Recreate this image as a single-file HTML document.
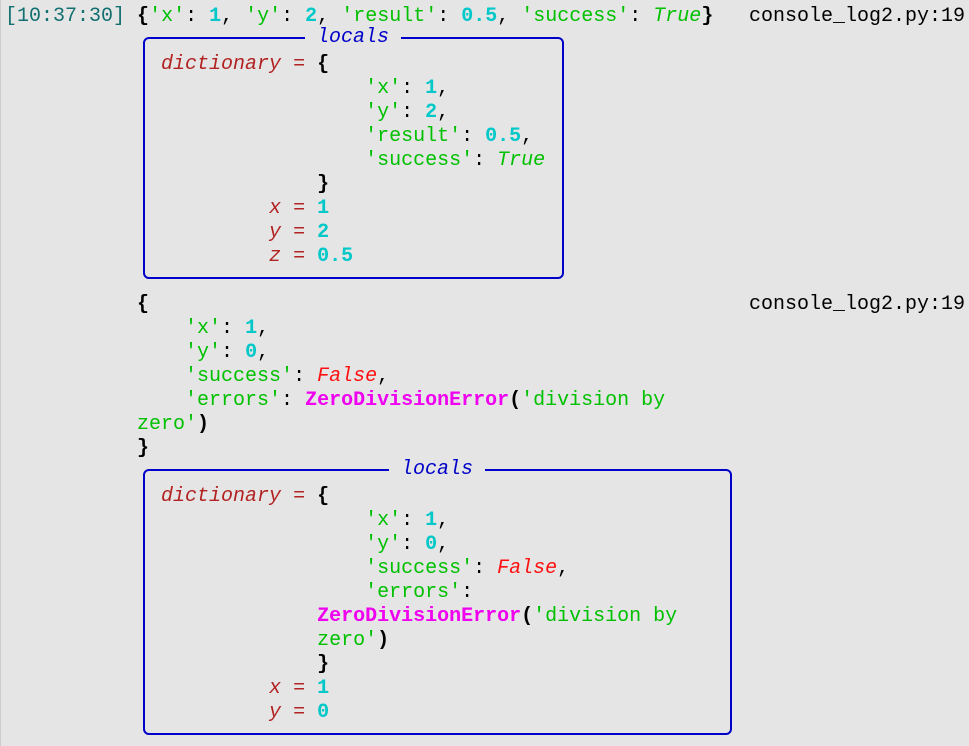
<!DOCTYPE html>
<html><head><meta charset="utf-8"><style>
html,body{margin:0;padding:0;background:#e5e5e5;width:969px;height:746px;overflow:hidden;position:relative}
.l{position:absolute;left:5px;margin-top:3px;white-space:pre;font:20px/24px "Liberation Mono","DejaVu Sans Mono",monospace;color:#000}
.t{color:#137070}.s{color:#00c000}.n{color:#00c8c8;font-weight:bold}.k{color:#b22222;font-style:italic}
.T{color:#00c000;font-style:italic}.F{color:#ff1010;font-style:italic}.z{color:#f000f0;font-weight:bold}
.b{font-weight:bold}.p{color:#b22222}
.box{position:absolute;border:2px solid #0000c8;border-radius:6px;box-sizing:border-box}
.lab{position:absolute;margin-top:3px;white-space:pre;font:italic 20px/24px "Liberation Mono",monospace;color:#0000c8;background:#e5e5e5}
</style></head><body>
<div style="position:absolute;left:0;top:0;width:1px;height:746px;background:#ccc"></div>
<div class="box" style="left:143px;top:37px;width:421px;height:242px"></div>
<div class="lab" style="left:305px;top:26px;margin-top:0;top:29px;height:18px;line-height:18px"> locals </div>
<div class="box" style="left:143px;top:469px;width:589px;height:266px"></div>
<div class="lab" style="left:389px;top:461px;margin-top:0;height:18px;line-height:18px"> locals </div>

<div class="l" style="top:2px"><span class="t">[10:37:30]</span> <span class="b">{</span><span class="s">'x'</span>: <span class="n">1</span>, <span class="s">'y'</span>: <span class="n">2</span>, <span class="s">'result'</span>: <span class="n">0.5</span>, <span class="s">'success'</span>: <span class="T">True</span><span class="b">}</span></div>
<div class="l" style="top:2px;left:749px">console_log2.py:19</div>
<div class="l" style="top:50px">             <span class="k">dictionary</span> <span class="p">=</span> <span class="b">{</span></div>
<div class="l" style="top:74px">                              <span class="s">'x'</span>: <span class="n">1</span>,</div>
<div class="l" style="top:98px">                              <span class="s">'y'</span>: <span class="n">2</span>,</div>
<div class="l" style="top:122px">                              <span class="s">'result'</span>: <span class="n">0.5</span>,</div>
<div class="l" style="top:146px">                              <span class="s">'success'</span>: <span class="T">True</span></div>
<div class="l" style="top:170px">                          <span class="b">}</span></div>
<div class="l" style="top:194px">                      <span class="k">x</span> <span class="p">=</span> <span class="n">1</span></div>
<div class="l" style="top:218px">                      <span class="k">y</span> <span class="p">=</span> <span class="n">2</span></div>
<div class="l" style="top:242px">                      <span class="k">z</span> <span class="p">=</span> <span class="n">0.5</span></div>

<div class="l" style="top:290px">           <span class="b">{</span></div>
<div class="l" style="top:290px;left:749px">console_log2.py:19</div>
<div class="l" style="top:314px">               <span class="s">'x'</span>: <span class="n">1</span>,</div>
<div class="l" style="top:338px">               <span class="s">'y'</span>: <span class="n">0</span>,</div>
<div class="l" style="top:362px">               <span class="s">'success'</span>: <span class="F">False</span>,</div>
<div class="l" style="top:386px">               <span class="s">'errors'</span>: <span class="z">ZeroDivisionError</span><span class="b">(</span><span class="s">'division by</span></div>
<div class="l" style="top:410px">           <span class="s">zero'</span><span class="b">)</span></div>
<div class="l" style="top:434px">           <span class="b">}</span></div>

<div class="l" style="top:482px">             <span class="k">dictionary</span> <span class="p">=</span> <span class="b">{</span></div>
<div class="l" style="top:506px">                              <span class="s">'x'</span>: <span class="n">1</span>,</div>
<div class="l" style="top:530px">                              <span class="s">'y'</span>: <span class="n">0</span>,</div>
<div class="l" style="top:554px">                              <span class="s">'success'</span>: <span class="F">False</span>,</div>
<div class="l" style="top:578px">                              <span class="s">'errors'</span>:</div>
<div class="l" style="top:602px">                          <span class="z">ZeroDivisionError</span><span class="b">(</span><span class="s">'division by</span></div>
<div class="l" style="top:626px">                          <span class="s">zero'</span><span class="b">)</span></div>
<div class="l" style="top:650px">                          <span class="b">}</span></div>
<div class="l" style="top:674px">                      <span class="k">x</span> <span class="p">=</span> <span class="n">1</span></div>
<div class="l" style="top:698px">                      <span class="k">y</span> <span class="p">=</span> <span class="n">0</span></div>
</body></html>
